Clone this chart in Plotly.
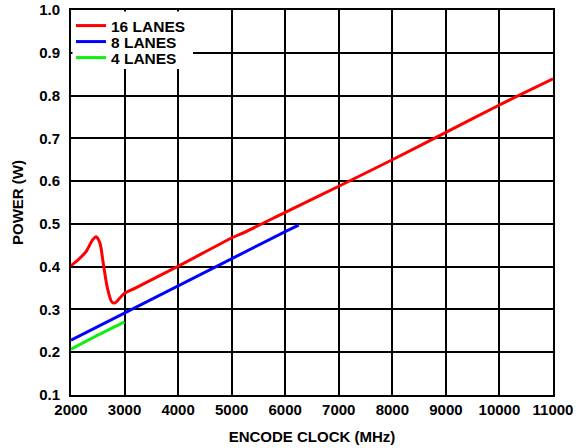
import plotly.graph_objects as go

# Data
red_x = [2000, 2150, 2280, 2400, 2467, 2540, 2600, 2680, 2760, 2820, 2900, 2990, 3200, 4000, 5000, 5250, 6000, 7000, 8000, 9000, 10000, 11000]
red_y = [0.402, 0.418, 0.435, 0.462, 0.470, 0.455, 0.410, 0.350, 0.318, 0.315, 0.325, 0.337, 0.350, 0.401, 0.467, 0.481, 0.527, 0.588, 0.650, 0.714, 0.778, 0.839]

blue_x = [2000, 2500, 3000, 4000, 5000, 6000, 6250]
blue_y = [0.228, 0.260, 0.291, 0.355, 0.420, 0.482, 0.497]

green_x = [2000, 2500, 3000]
green_y = [0.207, 0.240, 0.271]

series_names = ["16 LANES", "8 LANES", "4 LANES"]
x_ticks = [2000, 3000, 4000, 5000, 6000, 7000, 8000, 9000, 10000, 11000]
y_ticks = [0.1, 0.2, 0.3, 0.4, 0.5, 0.6, 0.7, 0.8, 0.9, 1.0]

FONT = "Liberation Sans, Arial, sans-serif"
W, H = 582, 448
ML, MR, MT, MB = 71, 29, 10, 53
PW, PH = W - ML - MR, H - MT - MB

fig = go.Figure()
fig.add_trace(go.Scatter(x=red_x, y=red_y, mode="lines", name=series_names[0], legend="legend",
                         line=dict(color="#ff0000", width=3, shape="spline", smoothing=0.8)))
fig.add_trace(go.Scatter(x=blue_x, y=blue_y, mode="lines", name=series_names[1], legend="legend2",
                         line=dict(color="#0000ff", width=3)))
fig.add_trace(go.Scatter(x=green_x, y=green_y, mode="lines", name=series_names[2], legend="legend3",
                         line=dict(color="#11ee11", width=3)))

legend_font = dict(family=FONT, size=15.5, color="black", weight="bold")
def leg(row_px):
    return dict(x=0, y=1 - (row_px - MT) / PH, xanchor="left", yanchor="middle",
                bgcolor="rgba(0,0,0,0)", borderwidth=0, font=legend_font, itemwidth=30)

fig.update_layout(
    width=W, height=H,
    margin=dict(l=ML, r=MR, t=MT, b=MB, autoexpand=False),
    paper_bgcolor="white", plot_bgcolor="white",
    font=dict(family=FONT, color="black", size=14),
    showlegend=True,
    legend=leg(26), legend2=leg(42), legend3=leg(58),
    shapes=[dict(type="rect", xref="paper", yref="paper", layer="above",
                 x0=1.5 / PW, x1=(193 - ML) / PW, y0=1 - (69 - MT) / PH, y1=1 - 1.5 / PH,
                 fillcolor="white", line=dict(width=0))],
)
fig.update_xaxes(
    range=[2000, 11000], tickvals=x_ticks, ticktext=[str(v) for v in x_ticks],
    showgrid=True, gridcolor="black", gridwidth=1.5,
    showline=True, linecolor="black", linewidth=2, mirror=True,
    ticks="", zeroline=False, automargin=False,
    tickfont=dict(family=FONT, size=15, color="black", weight="bold"),
    title=dict(text="ENCODE CLOCK (MHz)", standoff=14,
               font=dict(family=FONT, size=15, color="black", weight="bold")),
)
fig.update_yaxes(
    range=[0.1, 1.0], tickvals=y_ticks, ticktext=[f"{v:.1f}" for v in y_ticks],
    showgrid=True, gridcolor="black", gridwidth=1.5,
    showline=True, linecolor="black", linewidth=2, mirror=True,
    ticks="", zeroline=False, ticklabelstandoff=6, automargin=False,
    tickfont=dict(family=FONT, size=15, color="black", weight="bold"),
    title=dict(text="POWER (W)", standoff=12,
               font=dict(family=FONT, size=15, color="black", weight="bold")),
)

fig.write_html("out.html", config={"displayModeBar": False},
               post_script="document.body.style.margin='0';")
